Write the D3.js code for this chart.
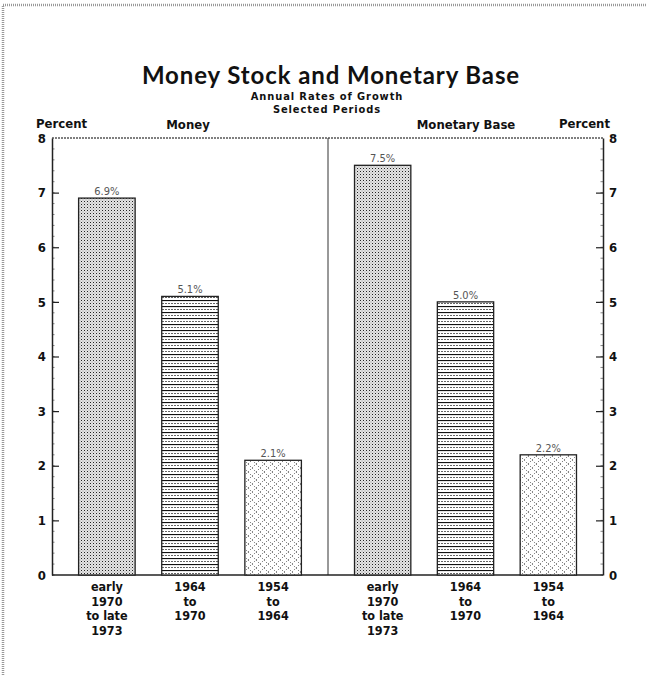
<!DOCTYPE html>
<html>
<head>
<meta charset="utf-8">
<script src="https://cdn.jsdelivr.net/npm/d3@7"></script>
<style>
  body { margin: 0; background: #fff; }
  .cond { font-family: 'DejaVu Sans Condensed', 'Liberation Sans Narrow', sans-serif; font-weight: bold; fill: #111; }
  .axis text { font-family: 'DejaVu Sans Condensed', sans-serif; font-weight: bold; font-size: 13px; fill: #111; }
</style>
</head>
<body>
<div id="chart"></div>
<script>
const periods = ['p1', 'p2', 'p3']
const periodLabels = [
    ['early', '1970', 'to late', '1973'],
    ['1964', 'to', '1970'],
    ['1954', 'to', '1964'],
]
const moneyValues = [6.9, 5.1, 2.1]
const baseValues = [7.5, 5.0, 2.2]
const panelNames = ['Money', 'Monetary Base']
const yTickValues = [0, 1, 2, 3, 4, 5, 6, 7, 8]
const patternIds = ['dots', 'lines', 'hatch']

function draw() {
    const dimensions = {
        width: 646,
        height: 675,
        left: 52,
        mid: 328,
        right: 603,
        top: 138,
        bottom: 575,
    }

    const svg = d3.select('#chart')
        .append('svg')
        .attr('width', dimensions.width)
        .attr('height', dimensions.height)

    // page border from the scan
    svg.append('path')
        .attr('d', `M3,${dimensions.height} L3,5 L${dimensions.width},5`)
        .attr('fill', 'none')
        .attr('stroke', '#999')
        .attr('stroke-width', 2.5)
        .attr('stroke-dasharray', '1,1')

    // fill patterns
    const defs = svg.append('defs')
    const dots = defs.append('pattern').attr('id', 'dots')
        .attr('patternUnits', 'userSpaceOnUse').attr('width', 3).attr('height', 3)
    dots.append('rect').attr('width', 3).attr('height', 3).attr('fill', '#e4e4e4')
    dots.append('rect').attr('width', 1).attr('height', 1).attr('fill', '#222')
    dots.append('rect').attr('x', 1.5).attr('y', 1.5).attr('width', 1).attr('height', 1).attr('fill', '#999')

    const lines = defs.append('pattern').attr('id', 'lines')
        .attr('patternUnits', 'userSpaceOnUse').attr('width', 6).attr('height', 6)
    lines.append('rect').attr('width', 6).attr('height', 6).attr('fill', '#fff')
    lines.append('line').attr('x1', 0).attr('x2', 6).attr('y1', 0.5).attr('y2', 0.5)
        .attr('stroke', '#111').attr('stroke-width', 1.2)
    lines.append('line').attr('x1', 0).attr('x2', 6).attr('y1', 3.5).attr('y2', 3.5)
        .attr('stroke', '#666').attr('stroke-width', 1).attr('stroke-dasharray', '2,1')

    const hatch = defs.append('pattern').attr('id', 'hatch')
        .attr('patternUnits', 'userSpaceOnUse').attr('width', 8).attr('height', 8)
    hatch.append('rect').attr('width', 8).attr('height', 8).attr('fill', '#fff')
    hatch.append('path').attr('d', 'M0,8 L8,0 M0,0 L8,8')
        .attr('stroke', '#444').attr('stroke-width', 0.8).attr('stroke-dasharray', '1.2,1.6')

    // titles
    svg.append('text')
        .attr('x', 331).attr('y', 84)
        .attr('text-anchor', 'middle')
        .style('font-family', 'Lato, sans-serif')
        .style('font-weight', 'bold')
        .style('font-size', '24px')
        .style('letter-spacing', '0.9px')
        .attr('fill', '#111')
        .text('Money Stock and Monetary Base')

    svg.append('text').attr('class', 'cond')
        .attr('x', 327).attr('y', 100)
        .attr('text-anchor', 'middle').style('font-size', '11px')
        .style('letter-spacing', '0.9px')
        .text('Annual Rates of Growth')
    svg.append('text').attr('class', 'cond')
        .attr('x', 327).attr('y', 113)
        .attr('text-anchor', 'middle').style('font-size', '11px')
        .style('letter-spacing', '0.9px')
        .text('Selected Periods')

    svg.append('text').attr('class', 'cond')
        .attr('x', 36).attr('y', 128).style('font-size', '13px')
        .text('Percent')
    svg.append('text').attr('class', 'cond')
        .attr('x', 610).attr('y', 128).attr('text-anchor', 'end').style('font-size', '13px')
        .text('Percent')

    const yScale = d3.scaleLinear()
        .domain([0, 8])
        .range([dimensions.bottom, dimensions.top])

    const xScales = [
        d3.scaleBand().domain(periods).range([dimensions.left, dimensions.mid]).padding(0.32),
        d3.scaleBand().domain(periods).range([dimensions.mid, dimensions.right]).padding(0.32),
    ]

    // frame
    svg.append('line')
        .attr('x1', dimensions.left).attr('x2', dimensions.right)
        .attr('y1', dimensions.top).attr('y2', dimensions.top)
        .attr('stroke', '#555').attr('stroke-width', 1.3).attr('stroke-dasharray', '2,1')
    svg.append('line')
        .attr('x1', dimensions.mid).attr('x2', dimensions.mid)
        .attr('y1', dimensions.top).attr('y2', dimensions.bottom)
        .attr('stroke', '#333').attr('stroke-width', 1)

    // minor ticks
    const minor = d3.range(0, 8, 0.2)
    svg.append('g').selectAll('line').data(minor).join('line')
        .attr('x1', dimensions.left).attr('x2', dimensions.left + 2.5)
        .attr('y1', d => yScale(d)).attr('y2', d => yScale(d))
        .attr('stroke', '#666').attr('stroke-width', 0.8)
    svg.append('g').selectAll('line').data(minor).join('line')
        .attr('x1', dimensions.right - 2.5).attr('x2', dimensions.right)
        .attr('y1', d => yScale(d)).attr('y2', d => yScale(d))
        .attr('stroke', '#666').attr('stroke-width', 0.8)

    const yAxisLeft = d3.axisLeft(yScale)
        .tickValues(yTickValues)
        .tickSize(-7)
        .tickSizeOuter(0)
        .tickPadding(6)
    const yAxisRight = d3.axisRight(yScale)
        .tickValues(yTickValues)
        .tickSize(-7)
        .tickSizeOuter(0)
        .tickPadding(6)

    const leftAxisGroup = svg.append('g')
        .attr('class', 'axis')
        .attr('transform', `translate(${dimensions.left}, 0)`)
        .call(yAxisLeft)
    const rightAxisGroup = svg.append('g')
        .attr('class', 'axis')
        .attr('transform', `translate(${dimensions.right}, 0)`)
        .call(yAxisRight)
    ;[leftAxisGroup, rightAxisGroup].forEach(g => {
        g.select('.domain').attr('stroke', '#222').attr('stroke-width', 1.5)
        g.selectAll('.tick line').attr('stroke', '#222').attr('stroke-width', 1.2)
        g.selectAll('.tick').filter(d => d === 0 || d === 8).select('line').remove()
    })

    // bottom line
    svg.append('line')
        .attr('x1', dimensions.left).attr('x2', dimensions.right)
        .attr('y1', dimensions.bottom).attr('y2', dimensions.bottom)
        .attr('stroke', '#222').attr('stroke-width', 1.5)

    const panels = [moneyValues, baseValues]
    panels.forEach((values, i) => {
        const xScale = xScales[i]
        const data = values.map((v, j) => ({ period: periods[j], value: v, pattern: patternIds[j], label: periodLabels[j] }))
        const g = svg.append('g')

        g.selectAll('rect')
            .data(data)
            .join('rect')
            .attr('x', d => xScale(d.period))
            .attr('y', d => yScale(d.value))
            .attr('width', xScale.bandwidth())
            .attr('height', d => yScale(0) - yScale(d.value))
            .attr('fill', d => `url(#${d.pattern})`)
            .attr('stroke', '#222')
            .attr('stroke-width', 1.3)

        g.selectAll('.value')
            .data(data)
            .join('text')
            .attr('class', 'value')
            .attr('x', d => xScale(d.period) + xScale.bandwidth() / 2)
            .attr('y', d => yScale(d.value) - 3)
            .attr('text-anchor', 'middle')
            .style('font-family', "'Liberation Sans Narrow', 'DejaVu Sans Condensed', sans-serif")
            .style('font-size', '11px')
            .attr('fill', '#555')
            .text(d => d3.format('.1f')(d.value) + '%')

        const labels = g.selectAll('.cat')
            .data(data)
            .join('text')
            .attr('class', 'cond cat')
            .attr('text-anchor', 'middle')
            .style('font-size', '12.5px')
        labels.selectAll('tspan')
            .data(d => d.label.map(t => ({ t, x: xScale(d.period) + xScale.bandwidth() / 2 })))
            .join('tspan')
            .attr('x', d => d.x)
            .attr('y', (d, k) => 591 + k * 14.5)
            .text(d => d.t)

        svg.append('text').attr('class', 'cond')
            .attr('x', i === 0 ? 188 : 466).attr('y', 129)
            .attr('text-anchor', 'middle').style('font-size', '13px')
            .text(panelNames[i])
    })
}

draw()
</script>
</body>
</html>
